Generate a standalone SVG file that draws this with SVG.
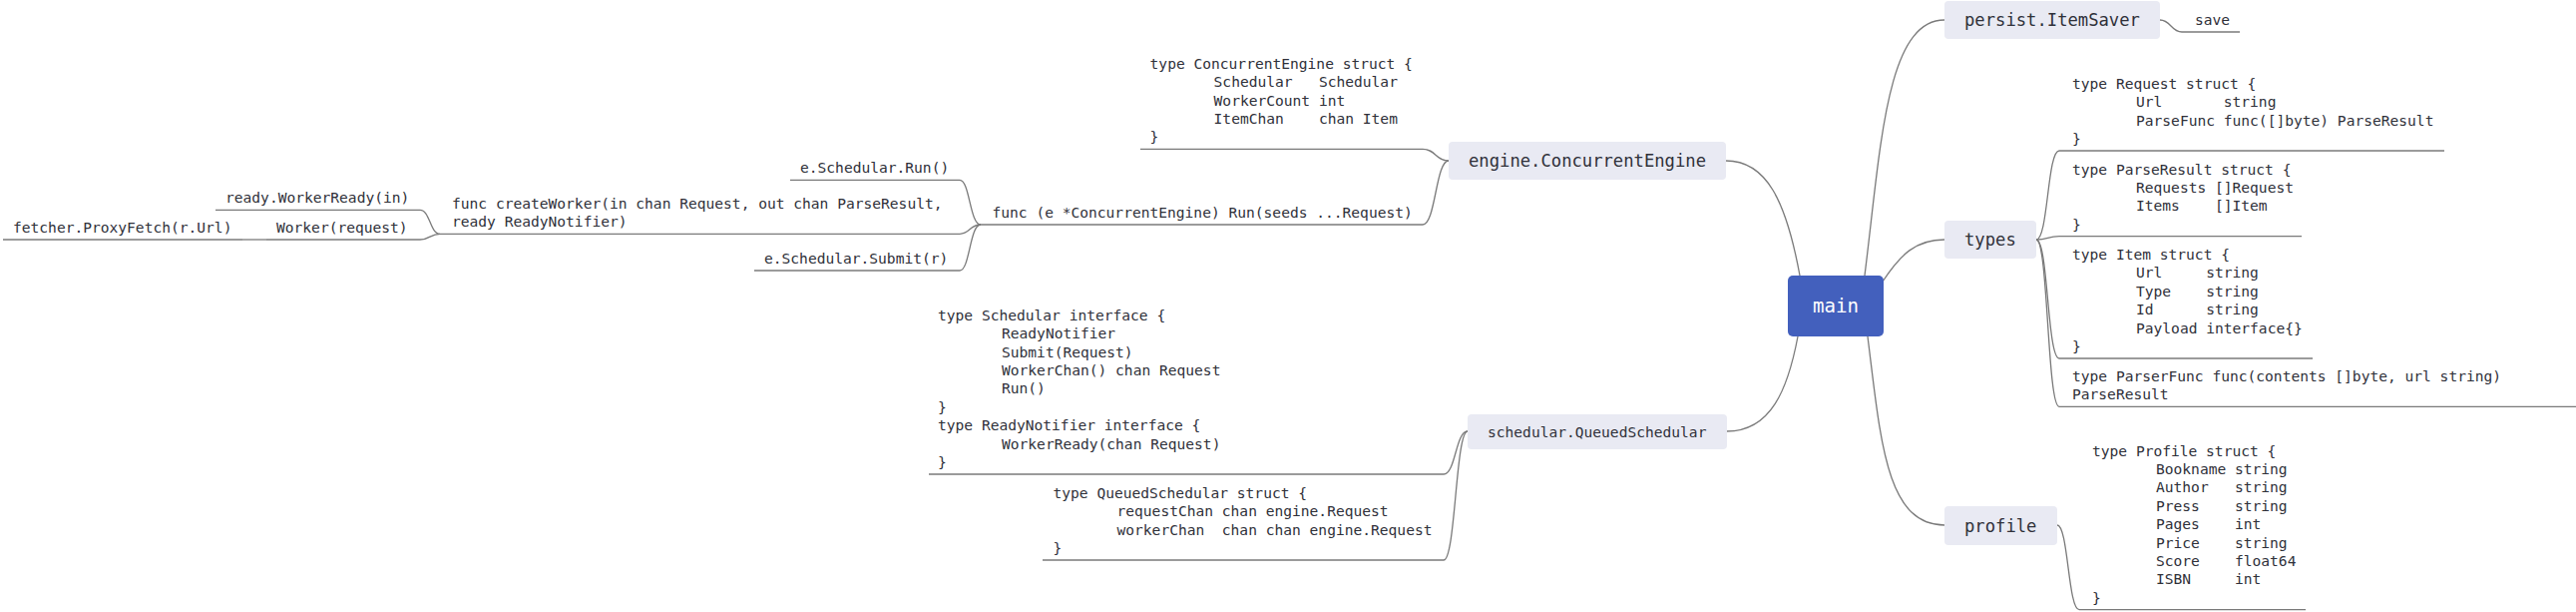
<svg xmlns="http://www.w3.org/2000/svg" width="2582" height="613" viewBox="0 0 2582 613">
<style>
text{font-family:"DejaVu Sans Mono","Liberation Mono",monospace;fill:#30313a;white-space:pre}
.n{font-size:17.2px}
.c{font-size:14.58px}
.m{font-size:19.1px;fill:#ffffff}
.box{fill:#e9eaf3}
.ln{fill:none;stroke:#7a7a7a;stroke-width:1.3}
</style>
<rect width="2582" height="613" fill="#ffffff"/>
<g id="connectors" class="ln">
<path d="M1804,276 C1790,200 1770,161 1730,161"/>
<path d="M1802,337 C1792,390 1775,432 1731,432"/>
<path d="M1869,276 C1885,150 1890,20 1949,20"/>
<path d="M1887,282 C1905,255 1920,240 1949,240"/>
<path d="M1872,337 C1885,440 1890,526 1949,526"/>
<path d="M1452,161 C1439,161 1439,149.3 1426,149.3"/>
<path d="M1452,161 C1439,161 1439,225 1426,225"/>
<path d="M983,225 C972,225 972,180.3 962,180.3"/>
<path d="M983,225 C972,225 972,234.3 962,234.3"/>
<path d="M983,225 C972,225 972,271 962,271"/>
<path d="M441,234.3 C431,234.3 431,210.3 421,210.3"/>
<path d="M441,234.3 C431,234.3 431,240 421,240"/>
<path d="M267,240 L243,240"/>
<path d="M1471,432 C1459,432 1459,475 1447,475"/>
<path d="M1471,432 C1459,432 1459,561 1447,561"/>
<path d="M2041,240 C2053,240 2052,151 2064,151"/>
<path d="M2041,240 C2053,240 2052,236.7 2064,236.7"/>
<path d="M2041,240 C2053,240 2052,359 2064,359"/>
<path d="M2041,240 C2053,240 2052,407.3 2064,407.3"/>
<path d="M2165,20 C2176,20 2176,32 2187,32"/>
<path d="M2062,526 C2073,526 2073,610.7 2084,610.7"/>
</g>
<g id="main">
<rect x="1792" y="276" width="96" height="61" rx="5" fill="#4360bd"/>
<text class="m" x="1840" y="313" text-anchor="middle">main</text>
</g>
<g id="engine">
<rect class="box" x="1452" y="142" width="278" height="38" rx="4"/>
<text class="n" x="1472" y="167.3">engine.ConcurrentEngine</text>
</g>
<g id="schedular">
<rect class="box" x="1471" y="415" width="260" height="35" rx="4"/>
<text class="c" x="1491" y="437.5">schedular.QueuedSchedular</text>
</g>
<g id="persist">
<rect class="box" x="1949" y="1" width="216" height="38" rx="4"/>
<text class="n" x="1969" y="26.3">persist.ItemSaver</text>
</g>
<g id="types">
<rect class="box" x="1949" y="221" width="92" height="38" rx="4"/>
<text class="n" x="1969" y="246.3">types</text>
</g>
<g id="profile">
<rect class="box" x="1949" y="507" width="113" height="39" rx="4"/>
<text class="n" x="1969" y="532.5">profile</text>
</g>
<g id="engine-struct">
<text class="c"><tspan x="1152.6" y="68.7">type ConcurrentEngine struct {</tspan><tspan x="1216.6" y="87.1">Schedular   Schedular</tspan><tspan x="1216.6" y="105.5">WorkerCount int</tspan><tspan x="1216.6" y="123.9">ItemChan    chan Item</tspan><tspan x="1152.6" y="142.3">}</tspan></text>
<path class="ln" d="M1143,149.3 H1426"/>
</g>
<g id="engine-run">
<text class="c" x="994.5" y="218.3">func (e *ConcurrentEngine) Run(seeds ...Request)</text>
<path class="ln" d="M983,225 H1426"/>
</g>
<g id="sched-run">
<text class="c" x="802" y="173.3">e.Schedular.Run()</text>
<path class="ln" d="M792,180.3 H962"/>
</g>
<g id="create-worker">
<text class="c"><tspan x="453" y="208.9">func createWorker(in chan Request, out chan ParseResult,</tspan><tspan x="453" y="227.3">ready ReadyNotifier)</tspan></text>
<path class="ln" d="M441,234.3 H962"/>
</g>
<g id="sched-submit">
<text class="c" x="766" y="264">e.Schedular.Submit(r)</text>
<path class="ln" d="M756,271 H962"/>
</g>
<g id="worker-ready">
<text class="c" x="226" y="203.3">ready.WorkerReady(in)</text>
<path class="ln" d="M216,210.3 H421"/>
</g>
<g id="worker">
<text class="c" x="277" y="233">Worker(request)</text>
<path class="ln" d="M267,240 H421"/>
</g>
<g id="proxy-fetch">
<text class="c" x="13" y="233">fetcher.ProxyFetch(r.Url)</text>
<path class="ln" d="M3,240 H243"/>
</g>
<g id="schedular-interface">
<text class="c"><tspan x="940" y="320.8">type Schedular interface {</tspan><tspan x="1004" y="339.2">ReadyNotifier</tspan><tspan x="1004" y="357.6">Submit(Request)</tspan><tspan x="1004" y="376">WorkerChan() chan Request</tspan><tspan x="1004" y="394.4">Run()</tspan><tspan x="940" y="412.8">}</tspan><tspan x="940" y="431.2">type ReadyNotifier interface {</tspan><tspan x="1004" y="449.6">WorkerReady(chan Request)</tspan><tspan x="940" y="468">}</tspan></text>
<path class="ln" d="M931,475 H1447"/>
</g>
<g id="queued-struct">
<text class="c"><tspan x="1055.5" y="498.8">type QueuedSchedular struct {</tspan><tspan x="1119.5" y="517.2">requestChan chan engine.Request</tspan><tspan x="1119.5" y="535.6">workerChan  chan chan engine.Request</tspan><tspan x="1055.5" y="554">}</tspan></text>
<path class="ln" d="M1045,561 H1447"/>
</g>
<g id="save">
<text class="c" x="2200" y="25">save</text>
<path class="ln" d="M2187,32 H2245"/>
</g>
<g id="request">
<text class="c"><tspan x="2077" y="88.8">type Request struct {</tspan><tspan x="2141" y="107.2">Url       string</tspan><tspan x="2141" y="125.6">ParseFunc func([]byte) ParseResult</tspan><tspan x="2077" y="144">}</tspan></text>
<path class="ln" d="M2064,151 H2450"/>
</g>
<g id="parse-result">
<text class="c"><tspan x="2077" y="174.5">type ParseResult struct {</tspan><tspan x="2141" y="192.9">Requests []Request</tspan><tspan x="2141" y="211.3">Items    []Item</tspan><tspan x="2077" y="229.7">}</tspan></text>
<path class="ln" d="M2064,236.7 H2307"/>
</g>
<g id="item">
<text class="c"><tspan x="2077" y="260">type Item struct {</tspan><tspan x="2141" y="278.4">Url     string</tspan><tspan x="2141" y="296.8">Type    string</tspan><tspan x="2141" y="315.2">Id      string</tspan><tspan x="2141" y="333.6">Payload interface{}</tspan><tspan x="2077" y="352">}</tspan></text>
<path class="ln" d="M2064,359 H2318"/>
</g>
<g id="parser-func">
<text class="c"><tspan x="2077" y="381.9">type ParserFunc func(contents []byte, url string)</tspan><tspan x="2077" y="400.3">ParseResult</tspan></text>
<path class="ln" d="M2064,407.3 H2582"/>
</g>
<g id="profile-struct">
<text class="c"><tspan x="2097" y="456.5">type Profile struct {</tspan><tspan x="2161" y="474.9">Bookname string</tspan><tspan x="2161" y="493.3">Author   string</tspan><tspan x="2161" y="511.7">Press    string</tspan><tspan x="2161" y="530.1">Pages    int</tspan><tspan x="2161" y="548.5">Price    string</tspan><tspan x="2161" y="566.9">Score    float64</tspan><tspan x="2161" y="585.3">ISBN     int</tspan><tspan x="2097" y="603.7">}</tspan></text>
<path class="ln" d="M2084,610.7 H2311"/>
</g>
</svg>
